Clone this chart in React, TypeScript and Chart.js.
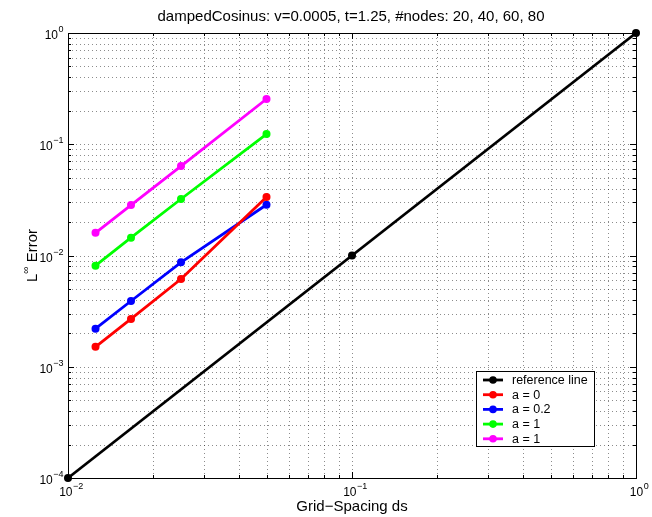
import React, { useEffect, useRef } from 'react';
import { Chart, registerables } from 'chart.js';
Chart.register(...registerables);

const titleText = 'dampedCosinus: v=0.0005, t=1.25, #nodes: 20, 40, 60, 80';
const xAxisTitle = 'Grid\u2212Spacing ds';
const gridSpacing = [0.05, 0.025, 0.016667, 0.0125];
const refX = [0.01, 0.1, 1];
const refY = [0.0001, 0.01, 1];
const errA0 = [0.0336, 0.00615, 0.00269, 0.00151];
const errA02 = [0.0286, 0.00869, 0.0039, 0.0022];
const errA1 = [0.1236, 0.0322, 0.01445, 0.0081];
const errA1b = [0.255, 0.0637, 0.0284, 0.016];
const seriesLabels = ['reference line', 'a = 0', 'a = 0.2', 'a = 1', 'a = 1'];
const seriesColors = ['#000000', '#ff0000', '#0000ff', '#00ff00', '#ff00ff'];
const xTickExps = [-2, -1, 0];
const yTickExps = [-4, -3, -2, -1, 0];
const X_MIN = 0.01, X_MAX = 1, Y_MIN = 0.0001, Y_MAX = 1;

const FONT = '"Liberation Sans", Arial, Helvetica, sans-serif';

function gridValues(minExp: number, maxExp: number) {
  const out: { v: number; major: boolean }[] = [];
  for (let e = minExp; e <= maxExp; e++) {
    for (let m = 1; m <= 9; m++) {
      if (e === maxExp && m > 1) break;
      out.push({ v: m * Math.pow(10, e), major: m === 1 });
    }
  }
  return out;
}

function drawPow(ctx: CanvasRenderingContext2D, exp: number, x: number, y: number, align: 'center' | 'right') {
  const base = '10';
  const sup = String(exp).replace('-', '\u2212');
  ctx.font = `12px ${FONT}`;
  const bw = ctx.measureText(base).width;
  ctx.font = `9px ${FONT}`;
  const sw = ctx.measureText(sup).width;
  const total = bw + sw;
  const left = align === 'center' ? x - total / 2 : x - total;
  ctx.textAlign = 'left';
  ctx.textBaseline = 'alphabetic';
  ctx.font = `12px ${FONT}`;
  ctx.fillText(base, left, y);
  ctx.font = `9px ${FONT}`;
  ctx.fillText(sup, left + bw + 0.5, y - 7);
}

const matlabPlugin = {
  id: 'matlabDecor',
  beforeDatasetsDraw(chart: any) {
    const ctx: CanvasRenderingContext2D = chart.ctx;
    const { left, right, top, bottom } = chart.chartArea;
    const xs = chart.scales.x, ys = chart.scales.y;
    ctx.save();
    ctx.fillStyle = '#ffffff';
    ctx.fillRect(left, top, right - left, bottom - top);
    ctx.strokeStyle = 'rgba(0,0,0,0.45)';
    ctx.lineWidth = 1;
    ctx.setLineDash([1, 3]);
    for (const g of gridValues(-2, 0)) {
      const px = Math.round(xs.getPixelForValue(g.v)) + 0.5;
      ctx.beginPath(); ctx.moveTo(px, top); ctx.lineTo(px, bottom); ctx.stroke();
    }
    for (const g of gridValues(-4, 0)) {
      const py = Math.round(ys.getPixelForValue(g.v)) + 0.5;
      ctx.beginPath(); ctx.moveTo(left, py); ctx.lineTo(right, py); ctx.stroke();
    }
    ctx.setLineDash([]);
    ctx.strokeStyle = '#000';
    for (const g of gridValues(-2, 0)) {
      const px = Math.round(xs.getPixelForValue(g.v)) + 0.5;
      const L = g.major ? 6 : 3;
      ctx.beginPath();
      ctx.moveTo(px, bottom); ctx.lineTo(px, bottom - L);
      ctx.moveTo(px, top); ctx.lineTo(px, top + L);
      ctx.stroke();
    }
    for (const g of gridValues(-4, 0)) {
      const py = Math.round(ys.getPixelForValue(g.v)) + 0.5;
      const L = g.major ? 6 : 3;
      ctx.beginPath();
      ctx.moveTo(left, py); ctx.lineTo(left + L, py);
      ctx.moveTo(right, py); ctx.lineTo(right - L, py);
      ctx.stroke();
    }
    ctx.lineWidth = 1;
    ctx.strokeRect(Math.round(left) + 0.5, Math.round(top) + 0.5, Math.round(right - left), Math.round(bottom - top));
    ctx.restore();
  },
  afterDraw(chart: any) {
    const ctx: CanvasRenderingContext2D = chart.ctx;
    const { left, right, top, bottom } = chart.chartArea;
    const xs = chart.scales.x, ys = chart.scales.y;
    ctx.save();
    ctx.fillStyle = '#000';
    // title
    ctx.font = `15px ${FONT}`;
    ctx.textAlign = 'center';
    ctx.textBaseline = 'alphabetic';
    ctx.fillText(titleText, (left + right) / 2 - 1, 21);
    // tick labels
    for (const e of xTickExps) {
      drawPow(ctx, e, xs.getPixelForValue(Math.pow(10, e)) + 3, bottom + 18, 'center');
    }
    for (const e of yTickExps) {
      drawPow(ctx, e, left - 5, ys.getPixelForValue(Math.pow(10, e)) + 6, 'right');
    }
    // x axis title
    ctx.font = `15px ${FONT}`;
    ctx.textAlign = 'center';
    ctx.fillText(xAxisTitle, (left + right) / 2, bottom + 33);
    // y axis title
    ctx.save();
    ctx.translate(37, (top + bottom) / 2);
    ctx.rotate(-Math.PI / 2);
    ctx.font = `15px ${FONT}`;
    const w1 = ctx.measureText('L').width;
    ctx.font = `10px ${FONT}`;
    const w2 = ctx.measureText('\u221e').width;
    ctx.font = `15px ${FONT}`;
    const w3 = ctx.measureText(' Error').width;
    const tot = w1 + w2 + w3;
    const sx = -tot / 2;
    ctx.textAlign = 'left';
    ctx.fillText('L', sx, 0);
    ctx.font = `10px ${FONT}`;
    ctx.fillText('\u221e', sx + w1, -8);
    ctx.font = `15px ${FONT}`;
    ctx.fillText(' Error', sx + w1 + w2, 0);
    ctx.restore();
    // legend
    const lx = 476, ly = 371, lw = 118, lh = 75;
    ctx.fillStyle = '#fff';
    ctx.fillRect(lx, ly, lw, lh);
    ctx.strokeStyle = '#000';
    ctx.lineWidth = 1;
    ctx.strokeRect(lx + 0.5, ly + 0.5, lw, lh);
    const datasets = chart.data.datasets;
    datasets.forEach((ds: any, i: number) => {
      const y = ly + 9 + i * 14.7;
      ctx.strokeStyle = ds.borderColor;
      ctx.lineWidth = 2.8;
      ctx.beginPath(); ctx.moveTo(lx + 7, y); ctx.lineTo(lx + 27, y); ctx.stroke();
      ctx.fillStyle = ds.borderColor;
      ctx.beginPath(); ctx.arc(lx + 17, y, 3.8, 0, Math.PI * 2); ctx.fill();
      ctx.fillStyle = '#000';
      ctx.font = `12.5px ${FONT}`;
      ctx.textAlign = 'left';
      ctx.textBaseline = 'middle';
      ctx.fillText(ds.label, lx + 36, y + 0.5);
    });
    ctx.restore();
  },
};

export default function App() {
  const ref = useRef<HTMLCanvasElement | null>(null);
  useEffect(() => {
    if (!ref.current) return;
    const mk = (xs: number[], ys: number[]) => xs.map((x, i) => ({ x, y: ys[i] }));
    const series = [
      mk(refX, refY),
      mk(gridSpacing, errA0),
      mk(gridSpacing, errA02),
      mk(gridSpacing, errA1),
      mk(gridSpacing, errA1b),
    ];
    const chart = new Chart(ref.current, {
      type: 'line',
      data: {
        datasets: series.map((d, i) => ({
          label: seriesLabels[i],
          data: d,
          borderColor: seriesColors[i],
          backgroundColor: seriesColors[i],
          pointBackgroundColor: seriesColors[i],
          pointBorderColor: seriesColors[i],
          pointRadius: 4,
          pointBorderWidth: 0,
          borderWidth: 2.8,
          tension: 0,
          fill: false,
          clip: 6,
        })),
      },
      options: {
        animation: false,
        responsive: false,
        devicePixelRatio: 1,
        layout: { padding: { left: 68, right: 16, top: 33, bottom: 39 } },
        plugins: { legend: { display: false }, title: { display: false }, tooltip: { enabled: false } },
        scales: {
          x: { type: 'logarithmic', min: X_MIN, max: X_MAX, display: false },
          y: { type: 'logarithmic', min: Y_MIN, max: Y_MAX, display: false },
        },
      },
      plugins: [matlabPlugin],
    });
    return () => chart.destroy();
  }, []);
  return (
    <div style={{ position: 'absolute', left: 0, top: 0, width: 652, height: 517, background: '#fff' }}>
      <canvas ref={ref} width={652} height={517} style={{ display: 'block', width: 652, height: 517 }} />
    </div>
  );
}
